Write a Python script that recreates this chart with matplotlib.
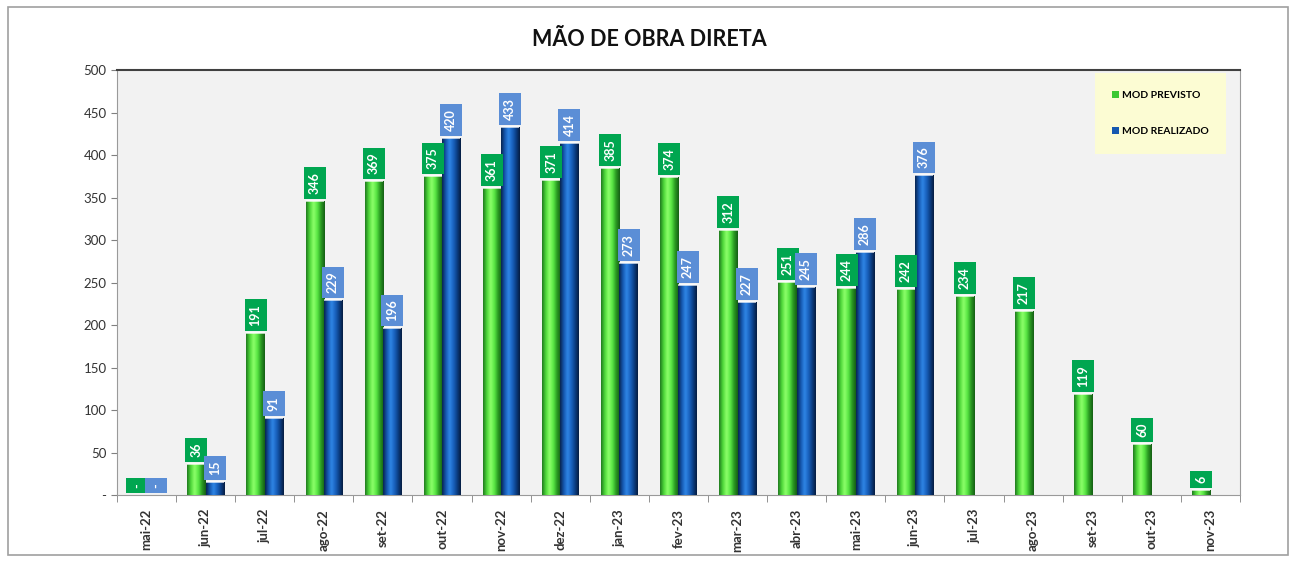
import numpy as np
import matplotlib.pyplot as plt
from matplotlib.colors import LinearSegmentedColormap
from matplotlib.patches import Rectangle

meses = ['mai-22', 'jun-22', 'jul-22', 'ago-22', 'set-22', 'out-22', 'nov-22',
         'dez-22', 'jan-23', 'fev-23', 'mar-23', 'abr-23', 'mai-23', 'jun-23',
         'jul-23', 'ago-23', 'set-23', 'out-23', 'nov-23']
mod_previsto = [0, 36, 191, 346, 369, 375, 361, 371, 385, 374, 312, 251, 244,
                242, 234, 217, 119, 60, 6]
mod_realizado = [0, 15, 91, 229, 196, 420, 433, 414, 273, 247, 227, 245, 286, 376]

plt.rcParams['font.family'] = ['Lato', 'DejaVu Sans']

verde = LinearSegmentedColormap.from_list(
    'verde', ['#1f7a1f', '#4fd83a', '#8dff6a', '#5ae845', '#2a9a22', '#155e15'])
azul = LinearSegmentedColormap.from_list(
    'azul', ['#08244f', '#1558b0', '#2f86e6', '#1a63c0', '#0b3f85', '#061c40'])


def preencher_gradiente(ax, barras, cmap):
    grad = np.linspace(0, 1, 64).reshape(1, -1)
    for b in barras:
        x0, y0 = b.get_x(), b.get_y()
        w, h = b.get_width(), b.get_height()
        if h <= 0:
            continue
        im = ax.imshow(grad, cmap=cmap, aspect='auto', interpolation='bicubic',
                       extent=(x0, x0 + w, y0, y0 + h), zorder=3)
        im.set_clip_path(b)


def rotular(ax, xs, vals, cor):
    for x, v in zip(xs, vals):
        txt = '-' if v == 0 else str(v)
        ax.annotate(txt, (x, v), xytext=(0, 5), textcoords='offset points',
                    rotation=90, ha='center', va='bottom', color='white',
                    fontsize=9, fontweight='bold', zorder=6,
                    bbox=dict(boxstyle='square,pad=0.4', fc=cor, ec='none'))


fig = plt.figure(figsize=(12.98, 5.62), dpi=100)
fig.patches.append(Rectangle((0.006, 0.012), 0.986, 0.975, transform=fig.transFigure,
                             fill=False, ec='#a0a0a0', lw=1.2))
ax = fig.add_axes([0.0901, 0.1192, 0.8652, 0.7562])
ax.set_facecolor('#f2f2f2')

x = np.arange(len(meses))
w = 0.31
b1 = ax.bar(x - w / 2, mod_previsto, w, color='#3cc832', edgecolor='none', zorder=2,
            label='MOD PREVISTO')
x2 = x[:len(mod_realizado)]
b2 = ax.bar(x2 + w / 2, mod_realizado, w, color='#1558b0', edgecolor='none', zorder=2,
            label='MOD REALIZADO')
preencher_gradiente(ax, b1, verde)
preencher_gradiente(ax, b2, azul)

# faixa clara no topo das barras
for b in list(b1) + list(b2):
    if b.get_height() > 0:
        ax.plot([b.get_x(), b.get_x() + b.get_width()], [b.get_height()] * 2,
                color='white', lw=1.2, alpha=0.8, zorder=4, solid_capstyle='butt')

rotular(ax, x - w / 2, mod_previsto, '#00a650')
rotular(ax, x2 + w / 2, mod_realizado, '#5b8ed6')

ax.set_xlim(-0.5, len(meses) - 0.5)
ax.set_ylim(0, 500)
ax.set_yticks(range(0, 501, 50))
ax.set_yticklabels(['-' if t == 0 else str(t) for t in range(0, 501, 50)])
ax.set_xticks(x)
ax.set_xticklabels(meses, rotation=90, fontsize=9.5, fontweight='bold', color='#333333')
ax.set_xticks(np.arange(-0.5, len(meses), 1), minor=True)
ax.tick_params(axis='x', which='major', length=0, pad=10)
ax.tick_params(axis='x', which='minor', length=5, color='#808080')
ax.tick_params(axis='y', length=4, color='#808080', labelsize=9.5, labelcolor='#333333')

for s in ['left', 'bottom', 'right']:
    ax.spines[s].set_color('#9a9a9a')
ax.spines['top'].set_color('#404040')
ax.spines['top'].set_linewidth(1.5)

fig.text(0.5, 0.93, 'MÃO DE OBRA DIRETA', ha='center', va='center',
         fontsize=15.5, fontweight='bold', color='#111111')

leg = ax.legend(loc='upper right', bbox_to_anchor=(0.985, 0.985), fontsize=7.5,
                frameon=True, handlelength=0.6, handleheight=0.6, handletextpad=0.3,
                labelspacing=2.6, borderpad=1.4, borderaxespad=0)
leg.get_frame().set_facecolor('#ffffcc')
leg.get_frame().set_edgecolor('none')
leg.get_frame().set_boxstyle('square')
for t in leg.get_texts():
    t.set_fontweight('bold')

fig.savefig('out.png', dpi=100)
